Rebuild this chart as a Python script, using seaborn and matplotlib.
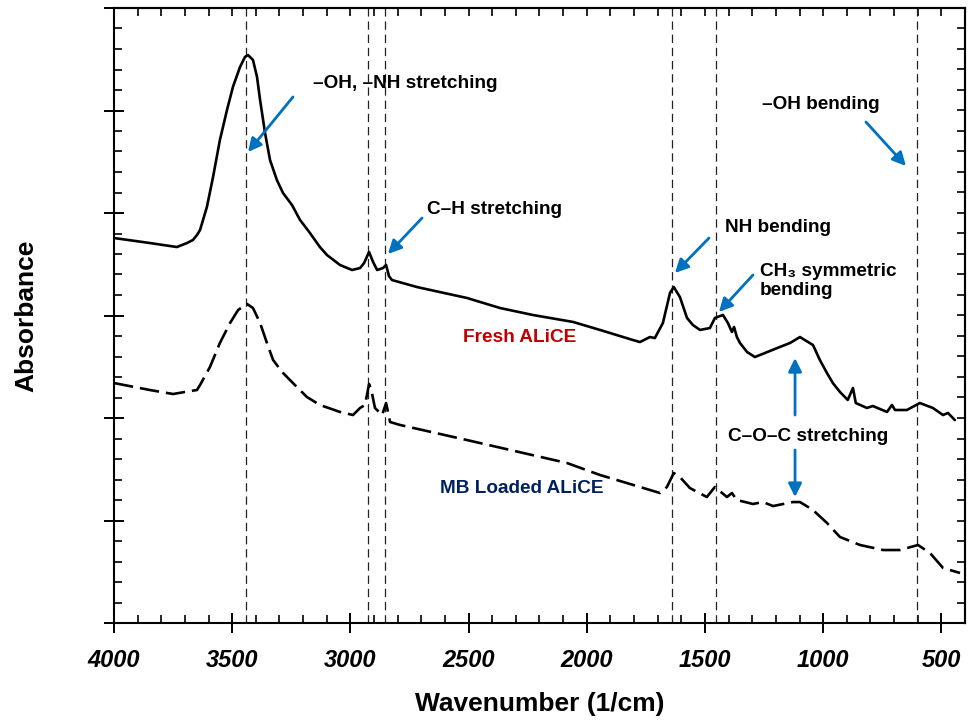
import numpy as np
import pandas as pd
import matplotlib
matplotlib.use("Agg")
import matplotlib.pyplot as plt
import seaborn as sns

# FTIR spectra (wavenumber in 1/cm, absorbance in arbitrary offset units)
fresh_wn = [4000, 3848, 3734, 3691, 3666, 3649, 3636, 3607, 3581, 3552, 3522, 3497,
            3467, 3446, 3433, 3412, 3395, 3382, 3361, 3340, 3311, 3285, 3247, 3213,
            3171, 3129, 3099, 3044, 2993, 2959, 2942, 2921, 2904, 2887, 2862, 2849,
            2837, 2824, 2719, 2622, 2507, 2367, 2228, 2058, 1944, 1805, 1775, 1733,
            1712, 1678, 1648, 1632, 1606, 1576, 1551, 1521, 1479, 1458, 1424, 1403,
            1386, 1377, 1365, 1352, 1322, 1289, 1267, 1183, 1140, 1098, 1085, 1043,
            1014, 984, 959, 929, 896, 874, 862, 815, 790, 730, 709, 696, 646, 591,
            536, 493, 472, 443]
fresh_abs = [3.756, 3.707, 3.668, 3.707, 3.737, 3.785, 3.834, 4.059, 4.351, 4.712,
             5.005, 5.229, 5.424, 5.522, 5.541, 5.493, 5.327, 5.102, 4.780, 4.517,
             4.322, 4.195, 4.078, 3.932, 3.805, 3.668, 3.590, 3.493, 3.444, 3.463,
             3.512, 3.620, 3.522, 3.444, 3.463, 3.493, 3.385, 3.346, 3.278, 3.229,
             3.171, 3.073, 3.005, 2.937, 2.859, 2.761, 2.741, 2.790, 2.780, 2.927,
             3.220, 3.278, 3.180, 2.976, 2.907, 2.859, 2.878, 2.976, 3.005, 2.927,
             2.839, 2.888, 2.790, 2.732, 2.644, 2.595, 2.615, 2.693, 2.732, 2.790,
             2.771, 2.712, 2.566, 2.439, 2.341, 2.254, 2.176, 2.293, 2.146, 2.098,
             2.117, 2.059, 2.127, 2.078, 2.078, 2.146, 2.098, 2.029, 2.049, 1.980]

loaded_wn = [4000, 3848, 3750, 3700, 3649, 3636, 3594, 3552, 3509, 3475, 3437, 3412,
             3382, 3353, 3327, 3289, 3243, 3184, 3129, 3044, 2989, 2959, 2938, 2921,
             2909, 2896, 2866, 2849, 2832, 2790, 2507, 2084, 1944, 1775, 1690, 1661,
             1632, 1606, 1564, 1492, 1458, 1407, 1386, 1365, 1297, 1255, 1212, 1128,
             1098, 1043, 984, 929, 844, 747, 675, 599, 548, 493, 421]
loaded_abs = [2.341, 2.273, 2.234, 2.254, 2.273, 2.322, 2.498, 2.732, 2.927, 3.054,
              3.112, 3.073, 2.927, 2.732, 2.566, 2.449, 2.341, 2.205, 2.127, 2.059,
              2.029, 2.098, 2.127, 2.332, 2.244, 2.098, 2.029, 2.146, 1.961, 1.932,
              1.785, 1.561, 1.444, 1.327, 1.268, 1.327, 1.463, 1.424, 1.317, 1.229,
              1.327, 1.229, 1.268, 1.200, 1.161, 1.180, 1.141, 1.180, 1.180, 1.102,
              0.976, 0.839, 0.761, 0.712, 0.712, 0.761, 0.683, 0.537, 0.488]

# Band positions marked with vertical guides
band_positions = [3440, 2925, 2855, 1640, 1455, 605]

x_ticks = [4000, 3500, 3000, 2500, 2000, 1500, 1000, 500]
x_tick_labels = ["4000", "3500", "3000", "2500", "2000", "1500", "1000", "500"]

fresh_df = pd.DataFrame({"wn": fresh_wn, "A": fresh_abs})
loaded_df = pd.DataFrame({"wn": loaded_wn, "A": loaded_abs})

sns.set_theme(style="ticks")
plt.rcParams["font.family"] = ["Liberation Sans", "DejaVu Sans"]
plt.rcParams["lines.scale_dashes"] = False
plt.rcParams["text.color"] = "black"
plt.rcParams["axes.labelcolor"] = "black"
plt.rcParams["xtick.color"] = "black"
plt.rcParams["ytick.color"] = "black"

fig = plt.figure(figsize=(9.7, 7.26), dpi=100)
ax = fig.add_axes([114 / 970, 1 - 623 / 726, (965 - 114) / 970, (623 - 8) / 726])

sns.lineplot(data=fresh_df, x="wn", y="A", ax=ax, color="black", lw=1.9,
             estimator=None, sort=False)
sns.lineplot(data=loaded_df, x="wn", y="A", ax=ax, color="black", lw=1.9,
             estimator=None, sort=False)
ax.lines[1].set_dashes((14, 5))
for ln in ax.lines[:2]:
    ln.set_solid_joinstyle("round")
    ln.set_dash_joinstyle("round")

for wn in band_positions:
    ax.axvline(wn, color="#222222", lw=0.9, dashes=(6, 3.5), zorder=1)

ax.set_xlim(4000, 400)
ax.set_ylim(0, 6)

ax.set_xticks(x_ticks)
ax.set_xticklabels(x_tick_labels, fontsize=17, fontweight="bold", fontstyle="italic")
ax.set_xticks(np.arange(500, 4001, 100), minor=True)
ax.set_yticks(np.arange(0, 6.01, 1))
ax.set_yticks(np.arange(0, 6.01, 0.2), minor=True)
ax.set_yticklabels([])

ax.tick_params(axis="both", which="major", direction="inout", length=15, width=1.4,
               color="black")
ax.tick_params(axis="x", which="major", pad=11)
ax.tick_params(axis="both", which="minor", direction="in", length=6, width=1.2,
               color="black")

for s in ax.spines.values():
    s.set_linewidth(1.5)
    s.set_color("black")

top = ax.secondary_xaxis("top")
top.set_xticks(np.arange(400, 4001, 100))
top.tick_params(direction="in", length=6, width=1.2, labeltop=False, color="black")
top.spines["top"].set_linewidth(1.5)
right = ax.secondary_yaxis("right")
right.set_yticks(np.arange(0, 6.01, 0.2))
right.tick_params(direction="in", length=6, width=1.2, labelright=False, color="black")
right.spines["right"].set_linewidth(1.5)

ax.set_xlabel("Wavenumber (1/cm)", fontsize=19, fontweight="bold")
ax.set_ylabel("Absorbance", fontsize=19, fontweight="bold")
ax.xaxis.set_label_coords(0.5, -0.113)
ax.yaxis.set_label_coords(-0.089, 0.5)

blue = "#0070C0"
arrow = dict(arrowstyle="-|>", color=blue, lw=2.0, mutation_scale=20,
             shrinkA=0, shrinkB=0)
fs = 13.7

ax.text(3158, 5.259, "\u2013OH, \u2013NH stretching", fontsize=fs, fontweight="bold",
        ha="left", va="center")
ax.annotate("", xy=(3433, 4.595), xytext=(3243, 5.132), arrowprops=arrow)

ax.text(2676, 4.039, "C\u2013H stretching", fontsize=fs, fontweight="bold",
        ha="left", va="center")
ax.annotate("", xy=(2841, 3.600), xytext=(2697, 3.951), arrowprops=arrow)

ax.text(1415, 3.863, "NH bending", fontsize=fs, fontweight="bold",
        ha="left", va="center")
ax.annotate("", xy=(1627, 3.415), xytext=(1483, 3.756), arrowprops=arrow)

ax.text(1267, 3.337, "CH\u2083 symmetric\nbending", fontsize=fs, fontweight="bold",
        ha="left", va="center", linespacing=1.15)
ax.annotate("", xy=(1441, 3.034), xytext=(1297, 3.395), arrowprops=arrow)

ax.text(1259, 5.06, "\u2013OH bending", fontsize=fs, fontweight="bold",
        ha="left", va="center")
ax.annotate("", xy=(650, 4.459), xytext=(819, 4.888), arrowprops=arrow)

ax.text(1403, 1.815, "C\u2013O\u2013C stretching", fontsize=fs, fontweight="bold",
        ha="left", va="center")
ax.annotate("", xy=(1119, 2.585), xytext=(1119, 2.029), arrowprops=arrow)
ax.annotate("", xy=(1119, 1.229), xytext=(1119, 1.688), arrowprops=arrow)

ax.text(2283, 2.790, "Fresh ALiCE", fontsize=fs, fontweight="bold",
        color="#C00000", ha="center", va="center")
ax.text(2274, 1.317, "MB Loaded ALiCE", fontsize=fs, fontweight="bold",
        color="#002060", ha="center", va="center")

fig.savefig("out.png", dpi=100)
